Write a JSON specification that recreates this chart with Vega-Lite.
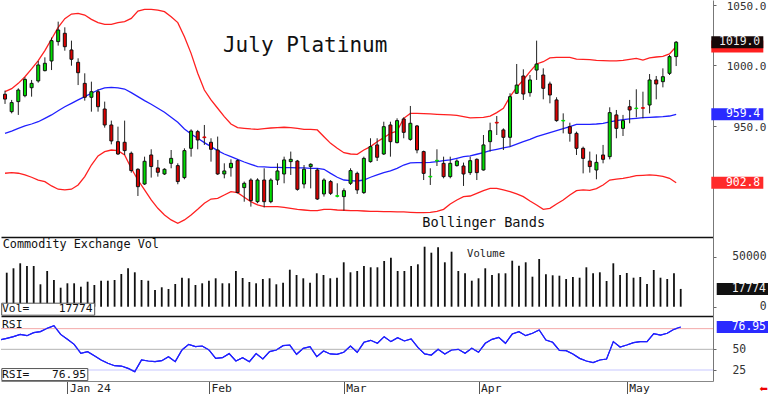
{
"$schema": "https://vega.github.io/schema/vega-lite/v6.json",
"padding": 0,
"spacing": 0,
"bounds": "flush",
"background": "white",
"config": {"font": "DejaVu Sans Mono", "view": {"stroke": null}, "axis": {"title": null, "grid": false}},
"resolve": {"scale": {"x": "independent", "y": "independent"}},
"datasets": {"bars": [
{"i":0,"open":976,"high":979,"low":968,"close":972,"upper":978.1,"mid":943.7,"lower":910.7,"vol":30000,"rsi":61.3},
{"i":1,"open":961.6,"high":971.3,"low":960.2,"close":969.1,"upper":980.6,"mid":945.6,"lower":911.2,"vol":34000,"rsi":63.3},
{"i":2,"open":969.9,"high":980.9,"low":958.9,"close":979.5,"upper":985.0,"mid":947.8,"lower":910.7,"vol":38400,"rsi":65.3},
{"i":3,"open":974.8,"high":990.0,"low":973.5,"close":988.3,"upper":990.5,"mid":949.8,"lower":909.3,"vol":43400,"rsi":68.1},
{"i":4,"open":981.4,"high":987.8,"low":974.0,"close":985.0,"upper":996.9,"mid":951.4,"lower":907.4,"vol":40700,"rsi":66.5},
{"i":5,"open":987.0,"high":1003.5,"low":985.6,"close":1000.2,"upper":1003.8,"mid":953.3,"lower":905.1,"vol":40700,"rsi":70.2},
{"i":6,"open":995.5,"high":1006.5,"low":994.9,"close":1001.6,"upper":1012.0,"mid":956.1,"lower":903.8,"vol":22400,"rsi":71.4},
{"i":7,"open":1003.5,"high":1022.8,"low":996.0,"close":1020.3,"upper":1021.7,"mid":958.9,"lower":900.2,"vol":35700,"rsi":75.4},
{"i":8,"open":1019.5,"high":1036.0,"low":1016.2,"close":1029.1,"upper":1031.3,"mid":962.4,"lower":897.5,"vol":26700,"rsi":78.6},
{"i":9,"open":1026.4,"high":1031.3,"low":1012.0,"close":1015.3,"upper":1038.5,"mid":965.7,"lower":896.9,"vol":19000,"rsi":68.1},
{"i":10,"open":1012.6,"high":1020.3,"low":999.6,"close":1004.9,"upper":1042.3,"mid":968.5,"lower":897.5,"vol":23400,"rsi":62.1},
{"i":11,"open":1002.4,"high":1005.7,"low":983.6,"close":993.8,"upper":1042.9,"mid":971.3,"lower":901.0,"vol":23400,"rsi":56.0},
{"i":12,"open":985.0,"high":993.3,"low":970.7,"close":973.5,"upper":1041.5,"mid":974.0,"lower":907.9,"vol":20000,"rsi":45.2},
{"i":13,"open":973.5,"high":986.4,"low":961.6,"close":978.1,"upper":1037.9,"mid":976.8,"lower":917.5,"vol":25000,"rsi":47.2},
{"i":14,"open":978.1,"high":980.1,"low":961.6,"close":965.7,"upper":1035.2,"mid":979.5,"lower":925.0,"vol":21700,"rsi":42.3},
{"i":15,"open":963.8,"high":969.9,"low":948.4,"close":950.6,"upper":1033.8,"mid":981.2,"lower":928.6,"vol":26000,"rsi":37.1},
{"i":16,"open":950.6,"high":954.2,"low":934.6,"close":937.4,"upper":1033.8,"mid":981.7,"lower":929.9,"vol":26000,"rsi":33.1},
{"i":17,"open":936.8,"high":949.2,"low":925.8,"close":926.6,"upper":1035.2,"mid":981.2,"lower":929.4,"vol":26700,"rsi":30.2},
{"i":18,"open":936.3,"high":954.2,"low":925.8,"close":929.4,"upper":1036.0,"mid":980.3,"lower":925.8,"vol":32700,"rsi":29.8},
{"i":19,"open":927.2,"high":928.6,"low":911.2,"close":912.9,"upper":1038.7,"mid":977.3,"lower":914.8,"vol":38400,"rsi":27.0},
{"i":20,"open":914.0,"high":914.8,"low":891.9,"close":899.6,"upper":1044.8,"mid":974.0,"lower":905.1,"vol":34400,"rsi":23.0},
{"i":21,"open":901.8,"high":924.4,"low":901.0,"close":920.6,"upper":1046.2,"mid":970.7,"lower":896.9,"vol":26700,"rsi":37.1},
{"i":22,"open":925.8,"high":930.5,"low":907.1,"close":916.2,"upper":1046.2,"mid":967.7,"lower":888.6,"vol":26000,"rsi":35.9},
{"i":23,"open":915.1,"high":921.7,"low":907.9,"close":911.5,"upper":1045.6,"mid":964.4,"lower":881.7,"vol":16700,"rsi":35.1},
{"i":24,"open":910.1,"high":914.8,"low":909.3,"close":914.0,"upper":1044.3,"mid":961.1,"lower":876.2,"vol":19400,"rsi":36.3},
{"i":25,"open":918.9,"high":929.9,"low":914.8,"close":923.0,"upper":1040.1,"mid":956.9,"lower":872.1,"vol":17700,"rsi":41.1},
{"i":26,"open":917.0,"high":918.9,"low":901.6,"close":903.8,"upper":1035.2,"mid":952.8,"lower":869.3,"vol":22700,"rsi":35.1},
{"i":27,"open":907.1,"high":931.3,"low":905.7,"close":929.4,"upper":1023.6,"mid":947.3,"lower":872.1,"vol":29000,"rsi":49.2},
{"i":28,"open":931.3,"high":947.0,"low":924.4,"close":945.6,"upper":1009.8,"mid":943.1,"lower":876.2,"vol":28400,"rsi":56.0},
{"i":29,"open":945.1,"high":946.5,"low":930.5,"close":938.2,"upper":993.3,"mid":939.6,"lower":880.9,"vol":21700,"rsi":53.2},
{"i":30,"open":940.7,"high":950.6,"low":934.1,"close":940.1,"upper":979.5,"mid":936.0,"lower":885.9,"vol":23400,"rsi":54.0},
{"i":31,"open":936.3,"high":939.6,"low":920.3,"close":930.5,"upper":971.3,"mid":932.7,"lower":889.4,"vol":26000,"rsi":49.2},
{"i":32,"open":929.9,"high":941.0,"low":909.3,"close":910.1,"upper":964.4,"mid":929.4,"lower":890.0,"vol":28400,"rsi":39.1},
{"i":33,"open":910.1,"high":918.9,"low":906.5,"close":912.6,"upper":957.5,"mid":926.6,"lower":892.7,"vol":23400,"rsi":39.9},
{"i":34,"open":915.3,"high":922.2,"low":907.9,"close":918.9,"upper":951.4,"mid":924.4,"lower":895.5,"vol":23400,"rsi":44.8},
{"i":35,"open":921.1,"high":922.2,"low":894.1,"close":894.7,"upper":948.4,"mid":922.2,"lower":894.7,"vol":35700,"rsi":35.9},
{"i":36,"open":898.8,"high":903.8,"low":887.2,"close":902.4,"upper":947.8,"mid":920.0,"lower":890.8,"vol":28700,"rsi":39.9},
{"i":37,"open":905.1,"high":906.5,"low":883.1,"close":888.1,"upper":947.3,"mid":918.1,"lower":887.2,"vol":24700,"rsi":35.1},
{"i":38,"open":887.2,"high":906.5,"low":885.9,"close":905.1,"upper":947.0,"mid":916.2,"lower":884.5,"vol":23400,"rsi":44.8},
{"i":39,"open":905.1,"high":914.8,"low":882.5,"close":887.2,"upper":947.6,"mid":915.9,"lower":883.1,"vol":27700,"rsi":38.3},
{"i":40,"open":887.2,"high":906.5,"low":885.9,"close":905.1,"upper":948.1,"mid":915.6,"lower":883.1,"vol":28400,"rsi":47.2},
{"i":41,"open":905.1,"high":918.9,"low":901.0,"close":912.6,"upper":948.4,"mid":915.6,"lower":883.1,"vol":22400,"rsi":49.2},
{"i":42,"open":910.1,"high":924.4,"low":902.4,"close":921.7,"upper":948.7,"mid":915.3,"lower":882.5,"vol":24000,"rsi":54.4},
{"i":43,"open":920.3,"high":928.6,"low":909.3,"close":922.2,"upper":948.4,"mid":915.3,"lower":881.7,"vol":37000,"rsi":55.2},
{"i":44,"open":920.8,"high":921.7,"low":896.3,"close":897.4,"upper":947.8,"mid":915.1,"lower":880.9,"vol":31700,"rsi":44.0},
{"i":45,"open":901.8,"high":917.5,"low":898.2,"close":914.0,"upper":947.0,"mid":915.1,"lower":880.3,"vol":28400,"rsi":51.2},
{"i":46,"open":916.2,"high":918.9,"low":898.2,"close":918.1,"upper":947.0,"mid":914.8,"lower":879.8,"vol":24000,"rsi":53.2},
{"i":47,"open":913.4,"high":914.8,"low":888.6,"close":889.4,"upper":946.5,"mid":914.8,"lower":879.8,"vol":33400,"rsi":41.1},
{"i":48,"open":893.6,"high":906.5,"low":891.4,"close":905.1,"upper":940.9,"mid":914.0,"lower":880.9,"vol":31700,"rsi":48.0},
{"i":49,"open":903.8,"high":905.1,"low":892.7,"close":894.1,"upper":935.4,"mid":910.6,"lower":880.9,"vol":28400,"rsi":44.4},
{"i":50,"open":891.6,"high":902.4,"low":890.8,"close":892.2,"upper":931.3,"mid":907.4,"lower":880.3,"vol":29000,"rsi":44.0},
{"i":51,"open":891.4,"high":898.2,"low":879.8,"close":896.3,"upper":927.7,"mid":905.1,"lower":880.1,"vol":44400,"rsi":46.4},
{"i":52,"open":902.4,"high":914.8,"low":901.0,"close":912.9,"upper":926.6,"mid":904.6,"lower":879.8,"vol":34400,"rsi":54.0},
{"i":53,"open":910.6,"high":912.0,"low":893.6,"close":896.9,"upper":926.3,"mid":904.3,"lower":879.8,"vol":35700,"rsi":46.4},
{"i":54,"open":894.7,"high":924.4,"low":893.6,"close":923.0,"upper":929.9,"mid":905.1,"lower":879.5,"vol":40700,"rsi":58.5},
{"i":55,"open":920.3,"high":939.6,"low":919.5,"close":932.7,"upper":932.7,"mid":907.4,"lower":879.2,"vol":39400,"rsi":60.9},
{"i":56,"open":934.1,"high":939.6,"low":920.8,"close":923.9,"upper":936.8,"mid":909.3,"lower":879.2,"vol":39400,"rsi":57.3},
{"i":57,"open":926.6,"high":953.3,"low":925.8,"close":949.2,"upper":940.1,"mid":911.2,"lower":879.0,"vol":45700,"rsi":65.3},
{"i":58,"open":950.6,"high":953.3,"low":924.4,"close":936.8,"upper":943.7,"mid":912.6,"lower":879.0,"vol":49000,"rsi":59.3},
{"i":59,"open":936.0,"high":956.1,"low":935.4,"close":954.2,"upper":945.6,"mid":914.8,"lower":878.7,"vol":35700,"rsi":64.1},
{"i":60,"open":955.6,"high":956.9,"low":939.6,"close":944.5,"upper":956.1,"mid":917.5,"lower":878.7,"vol":35700,"rsi":60.1},
{"i":61,"open":938.7,"high":966.3,"low":937.6,"close":952.0,"upper":960.2,"mid":919.2,"lower":878.4,"vol":40700,"rsi":62.5},
{"i":62,"open":949.8,"high":950.6,"low":927.2,"close":929.9,"upper":960.2,"mid":919.5,"lower":878.1,"vol":42400,"rsi":52.4},
{"i":63,"open":928.6,"high":929.4,"low":905.1,"close":910.6,"upper":960.0,"mid":919.5,"lower":878.1,"vol":60000,"rsi":44.4},
{"i":64,"open":907.6,"high":914.8,"low":901.0,"close":908.2,"upper":959.7,"mid":919.7,"lower":878.4,"vol":54000,"rsi":43.1},
{"i":65,"open":920.8,"high":930.5,"low":916.7,"close":921.4,"upper":959.4,"mid":920.3,"lower":879.2,"vol":59400,"rsi":50.0},
{"i":66,"open":918.9,"high":924.4,"low":906.5,"close":907.9,"upper":959.1,"mid":921.1,"lower":880.9,"vol":44400,"rsi":44.4},
{"i":67,"open":907.9,"high":924.4,"low":906.5,"close":918.9,"upper":958.9,"mid":921.7,"lower":885.3,"vol":55000,"rsi":49.2},
{"i":68,"open":917.0,"high":922.2,"low":916.2,"close":920.8,"upper":958.6,"mid":923.0,"lower":888.6,"vol":35700,"rsi":50.0},
{"i":69,"open":916.7,"high":919.5,"low":900.2,"close":910.1,"upper":957.5,"mid":924.4,"lower":891.4,"vol":33400,"rsi":45.2},
{"i":70,"open":911.2,"high":924.4,"low":909.3,"close":921.1,"upper":956.4,"mid":925.0,"lower":891.9,"vol":26000,"rsi":51.2},
{"i":71,"open":922.2,"high":923.0,"low":905.1,"close":911.2,"upper":956.7,"mid":926.4,"lower":894.1,"vol":28400,"rsi":46.4},
{"i":72,"open":913.4,"high":942.3,"low":912.9,"close":934.1,"upper":956.9,"mid":927.7,"lower":896.3,"vol":38400,"rsi":57.3},
{"i":73,"open":936.8,"high":952.5,"low":928.6,"close":945.9,"upper":958.0,"mid":929.4,"lower":898.2,"vol":31700,"rsi":62.1},
{"i":74,"open":952.8,"high":958.0,"low":942.3,"close":952.2,"upper":960.8,"mid":930.5,"lower":898.2,"vol":33400,"rsi":64.5},
{"i":75,"open":946.5,"high":947.8,"low":929.9,"close":940.4,"upper":964.4,"mid":931.6,"lower":896.9,"vol":33400,"rsi":57.3},
{"i":76,"open":940.4,"high":976.8,"low":932.7,"close":974.0,"upper":974.0,"mid":932.7,"lower":895.5,"vol":46000,"rsi":68.5},
{"i":77,"open":976.8,"high":1001.0,"low":976.2,"close":983.6,"upper":981.7,"mid":934.7,"lower":893.6,"vol":41000,"rsi":71.4},
{"i":78,"open":991.1,"high":996.6,"low":971.3,"close":976.2,"upper":987.8,"mid":936.8,"lower":891.4,"vol":44400,"rsi":66.5},
{"i":79,"open":977.3,"high":991.9,"low":974.0,"close":987.8,"upper":994.7,"mid":938.7,"lower":887.8,"vol":30000,"rsi":69.4},
{"i":80,"open":996.0,"high":1020.3,"low":987.8,"close":1001.0,"upper":1001.0,"mid":941.0,"lower":884.5,"vol":47700,"rsi":73.4},
{"i":81,"open":991.9,"high":997.4,"low":971.8,"close":980.9,"upper":1002.9,"mid":942.6,"lower":880.9,"vol":32400,"rsi":61.3},
{"i":82,"open":984.5,"high":986.4,"low":968.5,"close":975.4,"upper":1006.0,"mid":944.3,"lower":881.7,"vol":31400,"rsi":58.5},
{"i":83,"open":971.3,"high":973.5,"low":953.3,"close":954.2,"upper":1006.5,"mid":945.9,"lower":885.3,"vol":31000,"rsi":48.8},
{"i":84,"open":953.9,"high":960.2,"low":943.7,"close":954.4,"upper":1006.5,"mid":947.6,"lower":888.6,"vol":27700,"rsi":48.4},
{"i":85,"open":949.2,"high":952.5,"low":936.8,"close":943.7,"upper":1006.5,"mid":949.2,"lower":892.7,"vol":29700,"rsi":44.4},
{"i":86,"open":943.7,"high":945.1,"low":925.8,"close":931.3,"upper":1005.1,"mid":951.1,"lower":896.3,"vol":29000,"rsi":39.1},
{"i":87,"open":931.3,"high":932.7,"low":910.6,"close":923.0,"upper":1004.9,"mid":951.1,"lower":896.9,"vol":39400,"rsi":35.9},
{"i":88,"open":920.8,"high":928.6,"low":911.2,"close":916.2,"upper":1004.6,"mid":951.1,"lower":896.6,"vol":33400,"rsi":33.9},
{"i":89,"open":913.4,"high":926.3,"low":905.7,"close":919.7,"upper":1004.0,"mid":951.4,"lower":898.0,"vol":34400,"rsi":37.1},
{"i":90,"open":925.8,"high":934.1,"low":918.9,"close":922.2,"upper":1003.8,"mid":951.9,"lower":901.0,"vol":25700,"rsi":38.3},
{"i":91,"open":924.4,"high":965.2,"low":922.2,"close":960.8,"upper":1003.5,"mid":953.1,"lower":905.1,"vol":43400,"rsi":59.3},
{"i":92,"open":958.9,"high":963.0,"low":939.6,"close":947.8,"upper":1003.5,"mid":954.2,"lower":905.9,"vol":31700,"rsi":52.8},
{"i":93,"open":947.8,"high":958.9,"low":941.5,"close":954.2,"upper":1004.0,"mid":955.0,"lower":906.5,"vol":33700,"rsi":55.2},
{"i":94,"open":965.7,"high":971.3,"low":952.0,"close":963.0,"upper":1004.9,"mid":955.6,"lower":907.4,"vol":29000,"rsi":58.1},
{"i":95,"open":964.1,"high":980.1,"low":956.9,"close":964.6,"upper":1005.7,"mid":956.1,"lower":908.7,"vol":29700,"rsi":59.3},
{"i":96,"open":964.9,"high":978.1,"low":956.1,"close":964.4,"upper":1004.3,"mid":956.7,"lower":909.0,"vol":22700,"rsi":59.3},
{"i":97,"open":967.1,"high":992.7,"low":960.2,"close":987.8,"upper":1006.0,"mid":956.9,"lower":909.3,"vol":36700,"rsi":69.0},
{"i":98,"open":987.8,"high":991.1,"low":971.8,"close":984.5,"upper":1006.8,"mid":957.2,"lower":909.0,"vol":29000,"rsi":67.3},
{"i":99,"open":986.4,"high":997.4,"low":981.7,"close":990.5,"upper":1007.3,"mid":957.5,"lower":908.2,"vol":27700,"rsi":69.4},
{"i":100,"open":993.3,"high":1008.4,"low":991.9,"close":1007.1,"upper":1009.3,"mid":958.0,"lower":906.5,"vol":33400,"rsi":74.2},
{"i":101,"open":1007.1,"high":1020.0,"low":999.3,"close":1019.0,"upper":1015.5,"mid":959.4,"lower":902.8,"vol":17774,"rsi":76.95}
]},
"vconcat": [
{
"width": 712, "height": 237,
"data": {"name": "bars"},
"layer": [
{"mark": {"type": "line", "color": "#ff2020", "strokeWidth": 1.3, "clip": true},
 "encoding": {
  "x": {"field": "i", "type": "quantitative", "scale": {"domain": [0.148, 105.79], "nice": false, "zero": false},
        "axis": {"title": null, "labels": false, "ticks": false, "grid": false, "domain": true, "domainColor": "#111", "domainWidth": 1.5}},
  "y": {"field": "upper", "type": "quantitative", "scale": {"domain": [858, 1053.9], "nice": false, "zero": false},
        "axis": {"orient": "right", "title": null, "grid": false, "values": [950, 1000, 1050], "format": ".1f",
                 "tickSize": 3, "tickColor": "#666", "domainColor": "#777", "labelAlign": "right", "labelPadding": 50,
                 "labelFontSize": 11, "labelOffset": 1.6, "labelColor": "#333", "labelFont": "DejaVu Sans Mono", "labelBaseline": "middle",
                 "labelFlush": false, "labelOverlap": false}}}},
{"mark": {"type": "line", "color": "#2020ff", "strokeWidth": 1.3, "clip": true},
 "encoding": {"x": {"field": "i", "type": "quantitative"}, "y": {"field": "mid", "type": "quantitative"}}},
{"mark": {"type": "line", "color": "#ff2020", "strokeWidth": 1.3, "clip": true},
 "encoding": {"x": {"field": "i", "type": "quantitative"}, "y": {"field": "lower", "type": "quantitative"}}},
{"mark": {"type": "rule", "color": "#222", "strokeWidth": 1, "clip": true},
 "encoding": {"x": {"field": "i", "type": "quantitative"}, "y": {"field": "low", "type": "quantitative"}, "y2": {"field": "high"}}},
{"mark": {"type": "bar", "size": 3, "strokeWidth": 1, "clip": true},
 "encoding": {"x": {"field": "i", "type": "quantitative"}, "y": {"field": "open", "type": "quantitative"}, "y2": {"field": "close"},
  "fill": {"condition": {"test": "datum.close >= datum.open", "value": "#00dd00"}, "value": "#dd0000"},
  "stroke": {"condition": [{"test": "abs(datum.close - datum.open) < 1.2 && datum.close >= datum.open", "value": "#00dd00"}, {"test": "abs(datum.close - datum.open) < 1.2", "value": "#dd0000"}], "value": "#111"}}},
{"data": {"values": [{}]},
 "mark": {"type": "text", "text": "July Platinum", "fontSize": 21, "align": "left", "baseline": "alphabetic", "color": "#111", "font": "DejaVu Sans Mono"},
 "encoding": {"x": {"datum": 32.8, "type": "quantitative"}, "y": {"datum": 1010.9, "type": "quantitative"}}},
{"data": {"values": [{}]},
 "mark": {"type": "text", "text": "Bollinger Bands", "fontSize": 13.6, "align": "left", "baseline": "alphabetic", "color": "#111", "font": "DejaVu Sans Mono"},
 "encoding": {"x": {"datum": 62.8, "type": "quantitative"}, "y": {"datum": 866.3, "type": "quantitative"}}},
{"transform": [{"filter": "datum.i == 101"}],
 "mark": {"type": "tick", "orient": "horizontal", "size": 52, "thickness": 12, "color": "#ff2020", "opacity": 1, "clip": false},
 "encoding": {"x": {"datum": 110.2, "type": "quantitative"}, "y": {"field": "upper", "type": "quantitative"}}},
{"transform": [{"filter": "datum.i == 101"}],
 "mark": {"type": "tick", "orient": "horizontal", "size": 52, "thickness": 12, "color": "#160808", "opacity": 1, "clip": false},
 "encoding": {"x": {"datum": 110.2, "type": "quantitative"}, "y": {"field": "close", "type": "quantitative"}}},
{"transform": [{"filter": "datum.i == 101"}],
 "mark": {"type": "text", "align": "right", "baseline": "middle", "color": "#f0f0f0", "fontSize": 11.4, "clip": false},
 "encoding": {"x": {"datum": 113.65, "type": "quantitative"}, "y": {"field": "close", "type": "quantitative"}, "text": {"field": "close", "type": "quantitative", "format": ".1f"}}},
{"transform": [{"filter": "datum.i == 101"}],
 "mark": {"type": "tick", "orient": "horizontal", "size": 52, "thickness": 12, "color": "#2a2aff", "opacity": 1, "clip": false},
 "encoding": {"x": {"datum": 110.2, "type": "quantitative"}, "y": {"field": "mid", "type": "quantitative"}}},
{"transform": [{"filter": "datum.i == 101"}],
 "mark": {"type": "text", "align": "right", "baseline": "middle", "color": "white", "fontSize": 11.4, "clip": false},
 "encoding": {"x": {"datum": 113.65, "type": "quantitative"}, "y": {"field": "mid", "type": "quantitative"}, "text": {"field": "mid", "type": "quantitative", "format": ".1f"}}},
{"transform": [{"filter": "datum.i == 101"}],
 "mark": {"type": "tick", "orient": "horizontal", "size": 52, "thickness": 12, "color": "#ff2a2a", "opacity": 1, "clip": false},
 "encoding": {"x": {"datum": 110.2, "type": "quantitative"}, "y": {"field": "lower", "type": "quantitative"}}},
{"transform": [{"filter": "datum.i == 101"}],
 "mark": {"type": "text", "align": "right", "baseline": "middle", "color": "white", "fontSize": 11.4, "clip": false},
 "encoding": {"x": {"datum": 113.65, "type": "quantitative"}, "y": {"field": "lower", "type": "quantitative"}, "text": {"field": "lower", "type": "quantitative", "format": ".1f"}}}
]
},
{
"width": 712, "height": 79,
"data": {"name": "bars"},
"layer": [
{"mark": {"type": "rule", "color": "#111", "strokeWidth": 1.8, "clip": true},
 "encoding": {
  "x": {"field": "i", "type": "quantitative", "scale": {"domain": [0.148, 105.79], "nice": false, "zero": false},
        "axis": {"title": null, "labels": false, "ticks": false, "grid": false, "domain": true, "domainColor": "#111", "domainWidth": 1.5}},
  "y": {"field": "vol", "type": "quantitative", "scale": {"domain": [-9300, 69700], "nice": false, "zero": false},
        "axis": {"orient": "right", "title": null, "grid": false, "values": [0, 25000, 50000], "format": "d",
                 "tickSize": 3, "tickColor": "#666", "domainColor": "#777", "labelAlign": "right", "labelPadding": 50,
                 "labelFontSize": 11.4, "labelColor": "#333", "labelFont": "DejaVu Sans Mono", "labelBaseline": "middle",
                 "labelFlush": false, "labelOverlap": false}},
  "y2": {"datum": 0}}},
{"data": {"values": [{}]},
 "mark": {"type": "text", "text": "Commodity Exchange Vol", "fontSize": 11.8, "align": "left", "baseline": "alphabetic", "color": "#111"},
 "encoding": {"x": {"datum": 0.4, "type": "quantitative"}, "y": {"datum": 58400, "type": "quantitative"}}},
{"data": {"values": [{}]},
 "mark": {"type": "text", "text": "Volume", "fontSize": 10.5, "align": "left", "baseline": "alphabetic", "color": "#222"},
 "encoding": {"x": {"datum": 69.3, "type": "quantitative"}, "y": {"datum": 50000, "type": "quantitative"}}},
{"data": {"values": [{}]},
 "mark": {"type": "tick", "orient": "horizontal", "size": 93, "thickness": 12, "color": "white", "stroke": "#555", "strokeWidth": 1, "opacity": 1},
 "encoding": {"x": {"datum": 7.15, "type": "quantitative"}, "y": {"datum": -2500, "type": "quantitative"}}},
{"data": {"values": [{}]},
 "mark": {"type": "text", "text": "Vol=", "fontSize": 11.3, "align": "left", "baseline": "middle", "color": "#111"},
 "encoding": {"x": {"datum": 0.3, "type": "quantitative"}, "y": {"datum": -2500, "type": "quantitative"}}},
{"transform": [{"filter": "datum.i == 101"}],
 "mark": {"type": "text", "fontSize": 11.3, "align": "right", "baseline": "middle", "color": "#111"},
 "encoding": {"x": {"datum": 13.75, "type": "quantitative"}, "y": {"datum": -2500, "type": "quantitative"}, "text": {"field": "vol", "type": "quantitative", "format": "d"}}},
{"transform": [{"filter": "datum.i == 101"}],
 "mark": {"type": "tick", "orient": "horizontal", "size": 52, "thickness": 12, "color": "#111", "opacity": 1, "clip": false},
 "encoding": {"x": {"datum": 110.2, "type": "quantitative"}, "y": {"field": "vol", "type": "quantitative"}}},
{"transform": [{"filter": "datum.i == 101"}],
 "mark": {"type": "text", "align": "right", "baseline": "middle", "color": "#f0f0f0", "fontSize": 11.4, "clip": false},
 "encoding": {"x": {"datum": 113.65, "type": "quantitative"}, "y": {"field": "vol", "type": "quantitative"}, "text": {"field": "vol", "type": "quantitative", "format": "d"}}}
]
},
{
"width": 712, "height": 65,
"data": {"name": "bars"},
"layer": [
{"mark": {"type": "line", "color": "#2020ff", "strokeWidth": 1.2, "clip": true},
 "encoding": {
  "x": {"field": "i", "type": "quantitative", "scale": {"domain": [0.148, 105.79], "nice": false, "zero": false},
        "axis": {"title": null, "grid": false, "values": [10, 31, 51, 71, 93],
                 "labelExpr": "datum.value == 10 ? 'Jan 24' : datum.value == 31 ? 'Feb' : datum.value == 51 ? 'Mar' : datum.value == 71 ? 'Apr' : 'May'",
                 "tickSize": 13, "tickColor": "#555", "domainColor": "#888", "labelAlign": "left", "labelBaseline": "middle",
                 "labelPadding": -6, "labelOffset": 2, "labelFontSize": 11.3, "labelColor": "#222", "labelFont": "DejaVu Sans Mono",
                 "labelFlush": false, "labelOverlap": false}},
  "y": {"field": "rsi", "type": "quantitative", "scale": {"domain": [11.7, 90.3], "nice": false, "zero": false},
        "axis": {"orient": "right", "title": null, "grid": false, "values": [25, 50],
                 "tickSize": 3, "tickColor": "#666", "domainColor": "#777", "labelAlign": "left", "labelPadding": 16,
                 "labelFontSize": 11.4, "labelColor": "#333", "labelFont": "DejaVu Sans Mono", "labelBaseline": "middle",
                 "labelFlush": false, "labelOverlap": false}}}},
{"data": {"values": [{}]},
 "mark": {"type": "rule", "color": "#f4a8a8", "strokeWidth": 1},
 "encoding": {"y": {"datum": 75, "type": "quantitative"}}},
{"data": {"values": [{}]},
 "mark": {"type": "rule", "color": "#b4b4b4", "strokeWidth": 1},
 "encoding": {"y": {"datum": 50, "type": "quantitative"}}},
{"data": {"values": [{}]},
 "mark": {"type": "rule", "color": "#c8c8ff", "strokeWidth": 1.2},
 "encoding": {"y": {"datum": 25, "type": "quantitative"}}},
{"mark": {"type": "line", "color": "#2020ff", "strokeWidth": 1.2, "clip": true},
 "encoding": {"x": {"field": "i", "type": "quantitative"}, "y": {"field": "rsi", "type": "quantitative"}}},
{"data": {"values": [{}]},
 "mark": {"type": "text", "text": "RSI", "fontSize": 11.3, "align": "left", "baseline": "alphabetic", "color": "#111"},
 "encoding": {"x": {"datum": 0.3, "type": "quantitative"}, "y": {"datum": 75.4, "type": "quantitative"}}},
{"data": {"values": [{}]},
 "mark": {"type": "tick", "orient": "horizontal", "size": 86, "thickness": 12, "color": "white", "stroke": "#555", "strokeWidth": 1, "opacity": 1},
 "encoding": {"x": {"datum": 6.65, "type": "quantitative"}, "y": {"datum": 19.5, "type": "quantitative"}}},
{"data": {"values": [{}]},
 "mark": {"type": "text", "text": "RSI=", "fontSize": 11.3, "align": "left", "baseline": "middle", "color": "#111"},
 "encoding": {"x": {"datum": 0.3, "type": "quantitative"}, "y": {"datum": 19.5, "type": "quantitative"}}},
{"transform": [{"filter": "datum.i == 101"}],
 "mark": {"type": "text", "fontSize": 11.3, "align": "right", "baseline": "middle", "color": "#111"},
 "encoding": {"x": {"datum": 12.76, "type": "quantitative"}, "y": {"datum": 19.5, "type": "quantitative"}, "text": {"field": "rsi", "type": "quantitative", "format": ".2f"}}},
{"transform": [{"filter": "datum.i == 101"}],
 "mark": {"type": "tick", "orient": "horizontal", "size": 52, "thickness": 12, "color": "#2a2aff", "opacity": 1, "clip": false},
 "encoding": {"x": {"datum": 110.2, "type": "quantitative"}, "y": {"field": "rsi", "type": "quantitative"}}},
{"transform": [{"filter": "datum.i == 101"}],
 "mark": {"type": "text", "align": "right", "baseline": "middle", "color": "white", "fontSize": 11.4, "clip": false},
 "encoding": {"x": {"datum": 113.65, "type": "quantitative"}, "y": {"field": "rsi", "type": "quantitative"}, "text": {"field": "rsi", "type": "quantitative", "format": ".2f"}}},
{"data": {"values": [{}]},
 "mark": {"type": "text", "text": "⬅", "fontSize": 10, "align": "center", "baseline": "middle", "color": "#ee0000", "font": "DejaVu Sans", "clip": false},
 "encoding": {"x": {"datum": 113.3, "type": "quantitative"}, "y": {"datum": 2, "type": "quantitative"}}}
]
}
]
}
